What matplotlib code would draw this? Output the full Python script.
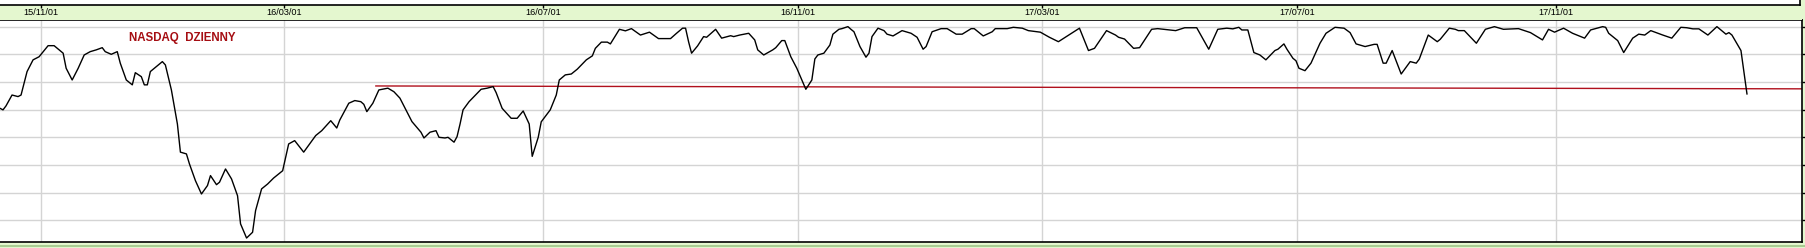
import matplotlib
matplotlib.use("Agg")
import matplotlib.pyplot as plt
from matplotlib.patches import Rectangle
from matplotlib.lines import Line2D

# NASDAQ daily oscillator, x = trading-day index, y = indicator value
days = [0, 1, 2, 4, 6, 7, 9, 11, 13, 16, 18, 21, 22, 24, 26, 28, 30, 32, 34, 35,
        37, 39, 40, 42, 44, 45, 47, 48, 49, 50, 54, 55, 57, 59, 60, 62, 63, 65, 67, 69,
        70, 72, 73, 75, 77, 79, 80, 82, 84, 85, 87, 89, 91, 94, 96, 98, 101, 105, 107, 109,
        110, 112, 113, 116, 118, 120, 121, 122, 124, 126, 129, 131, 133, 135, 137, 140, 141, 143, 145, 146,
        148, 149, 151, 152, 153, 154, 156, 160, 162, 164, 165, 167, 169, 170, 172, 174, 176, 177, 179, 180,
        182, 183, 185, 186, 188, 190, 192, 195, 197, 198, 200, 202, 203, 206, 208, 210, 213, 216, 219, 223,
        225, 227, 228, 229, 230, 232, 234, 235, 238, 240, 243, 244, 246, 249, 251, 252, 254, 257, 258, 260,
        261, 263, 265, 268, 270, 271, 272, 274, 276, 277, 279, 280, 282, 283, 284, 286, 288, 289, 290, 292,
        294, 295, 297, 300, 303, 305, 307, 308, 310, 313, 315, 318, 320, 323, 324, 327, 330, 331, 335, 337,
        340, 342, 346, 349, 352, 355, 359, 362, 364, 368, 371, 372, 374, 377, 379, 383, 385, 391, 394, 398,
        402, 405, 408, 410, 412, 413, 415, 417, 419, 421, 422, 424, 425, 427, 428, 430, 431, 432, 434, 436,
        439, 441, 444, 447, 449, 451, 454, 457, 458, 460, 461, 463, 466, 469, 471, 472, 475, 478, 479, 482,
        484, 485, 487, 491, 494, 497, 500, 505, 509, 513, 515, 517, 520, 523, 527, 529, 533, 534, 535, 538,
        540, 543, 545, 547, 549, 553, 556, 559, 561, 563, 565, 568, 571, 574, 575, 576, 579, 581]
values = [63.1, 62.4, 64.2, 69.1, 68.4, 69.1, 79.7, 85.0, 86.4, 91.4, 91.4, 88.0, 81.2, 75.9, 81.2, 87.2, 88.7, 89.5, 90.5, 88.7,
          87.5, 88.7, 83.5, 75.9, 73.7, 79.2, 77.4, 73.7, 73.7, 79.7, 84.2, 82.7, 71.4, 56.0, 43.3, 42.5, 38.0, 30.4, 24.4, 28.2,
          32.7, 28.6, 29.7, 35.7, 31.2, 23.6, 10.9, 4.5, 7.1, 16.9, 26.7, 28.9, 31.6, 34.9, 47.0, 48.5, 43.3, 50.8, 53.0, 56.0,
          57.5, 54.2, 57.8, 65.4, 66.6, 66.1, 64.9, 61.6, 65.4, 71.4, 72.2, 70.6, 67.7, 62.4, 57.1, 52.3, 49.7, 52.3, 53.0, 50.0,
          49.7, 50.0, 47.8, 50.3, 56.0, 62.4, 66.1, 71.7, 72.2, 72.9, 70.2, 63.1, 60.1, 58.6, 58.6, 61.9, 56.0, 41.4, 50.0, 57.0,
          60.6, 62.4, 69.1, 75.9, 78.2, 78.6, 80.8, 85.0, 86.8, 90.2, 93.0, 93.0, 92.2, 98.8, 98.1, 99.1, 96.2, 97.5, 94.6, 94.6,
          97.0, 99.3, 99.3, 93.2, 88.0, 91.3, 95.5, 95.2, 98.8, 94.8, 95.9, 95.5, 96.2, 97.0, 94.0, 89.5, 87.2, 89.5, 90.5, 93.7,
          93.7, 86.4, 81.2, 71.7, 75.9, 85.4, 87.2, 88.0, 91.7, 96.6, 98.8, 99.1, 100.0, 98.8, 97.7, 91.0, 86.2, 88.0, 95.5, 99.3,
          98.2, 96.6, 95.8, 98.2, 97.0, 95.2, 89.8, 91.0, 97.7, 99.1, 99.1, 96.6, 96.6, 99.1, 99.1, 95.8, 97.7, 99.1, 99.1, 99.7,
          99.3, 98.2, 97.5, 95.2, 93.2, 95.8, 99.3, 89.2, 90.2, 98.2, 96.2, 95.2, 94.4, 90.2, 90.5, 98.8, 99.1, 98.2, 99.5, 99.5,
          89.8, 98.8, 99.3, 99.0, 99.7, 98.5, 98.5, 88.3, 87.2, 85.0, 86.4, 89.2, 89.8, 92.2, 89.8, 85.7, 84.6, 81.2, 80.1, 83.5,
          92.5, 97.0, 99.7, 99.3, 97.3, 92.2, 91.0, 92.0, 92.0, 83.5, 83.5, 89.2, 78.6, 84.2, 83.5, 85.3, 96.2, 93.2, 94.3, 99.3,
          98.8, 98.2, 98.2, 92.5, 98.8, 100.0, 98.8, 99.1, 97.3, 94.0, 98.8, 97.5, 99.3, 97.0, 94.8, 98.5, 100.0, 99.7, 97.0, 93.7,
          88.3, 94.8, 96.6, 96.2, 98.2, 96.2, 94.8, 99.7, 99.5, 99.0, 99.0, 96.2, 100.0, 96.6, 97.3, 96.2, 89.2, 69.6]

# red support line
support_days = [125, 599]
support_vals = [73.2, 71.9]

tick_days = [13.5, 94.5, 180.5, 265.5, 346.5, 431.5, 517.5]
tick_labels = ["15/11/01", "16/03/01", "16/07/01", "16/11/01", "17/03/01", "17/07/01", "17/11/01"]
grid_vals = [12.5, 25, 37.5, 50, 62.5, 75, 87.5, 100]

W, H = 1806, 248
green = "#e4f7cf"
fig = plt.figure(figsize=(W / 100, H / 100), dpi=100, facecolor=green)

# white strip on top
fig.patches.append(Rectangle((0, 1 - 4.5 / H), 1800 / W, 4.5 / H, transform=fig.transFigure,
                             facecolor="white", edgecolor="none", zorder=0))
fig.lines.append(Line2D([0, 1800 / W], [1 - 4.5 / H] * 2, transform=fig.transFigure, color="black", lw=1.2))
fig.lines.append(Line2D([1800.5 / W] * 2, [1 - 4.5 / H, 1], transform=fig.transFigure, color="black", lw=1.2))
# darker green line at the bottom
fig.lines.append(Line2D([0, 1], [2.5 / H] * 2, transform=fig.transFigure, color="#a9cc92", lw=1.5))

ax = fig.add_axes([0, 6 / H, 1802 / W, 222 / H])
ax.set_facecolor("white")
ax.plot(days, values, color="black", lw=1.0, zorder=3)
ax.plot(support_days, support_vals, color="#b0101c", lw=1.0, zorder=2)
ax.set_xlim(0, 599.3)
ax.set_ylim(2.7, 103.0)
ax.set_xticks(tick_days)
ax.set_yticks(grid_vals)
ax.grid(True, color="#d4d4d4", lw=1.0)
ax.tick_params(axis="x", length=0, labelbottom=False)
ax.tick_params(axis="y", left=False, right=True, labelleft=False, direction="out", length=3, width=1)
for s in ["top", "bottom", "right"]:
    ax.spines[s].set_color("black")
    ax.spines[s].set_linewidth(1.2)
ax.spines["left"].set_visible(False)

ax.text(0.0715, 0.918, "NASDAQ  DZIENNY", transform=ax.transAxes, color="#a50d12",
        fontsize=8.3, fontweight="bold", family="Liberation Sans", va="center", ha="left")

# date header band
hx = fig.add_axes([0, 1 - 20 / H, 1802 / W, 15.5 / H])
hx.set_facecolor(green)
hx.set_xlim(0, 599.3)
hx.set_ylim(0, 1)
hx.set_yticks([])
hx.set_xticks(tick_days)
hx.tick_params(axis="x", top=True, bottom=False, labelbottom=False, direction="inout", length=4, width=1)
for s in hx.spines.values():
    s.set_visible(False)
for d, lab in zip(tick_days, tick_labels):
    hx.text(d, 0.5, lab, ha="center", va="center", fontsize=6.6, family="Liberation Sans")

fig.savefig("out.png", dpi=100, facecolor=green)
